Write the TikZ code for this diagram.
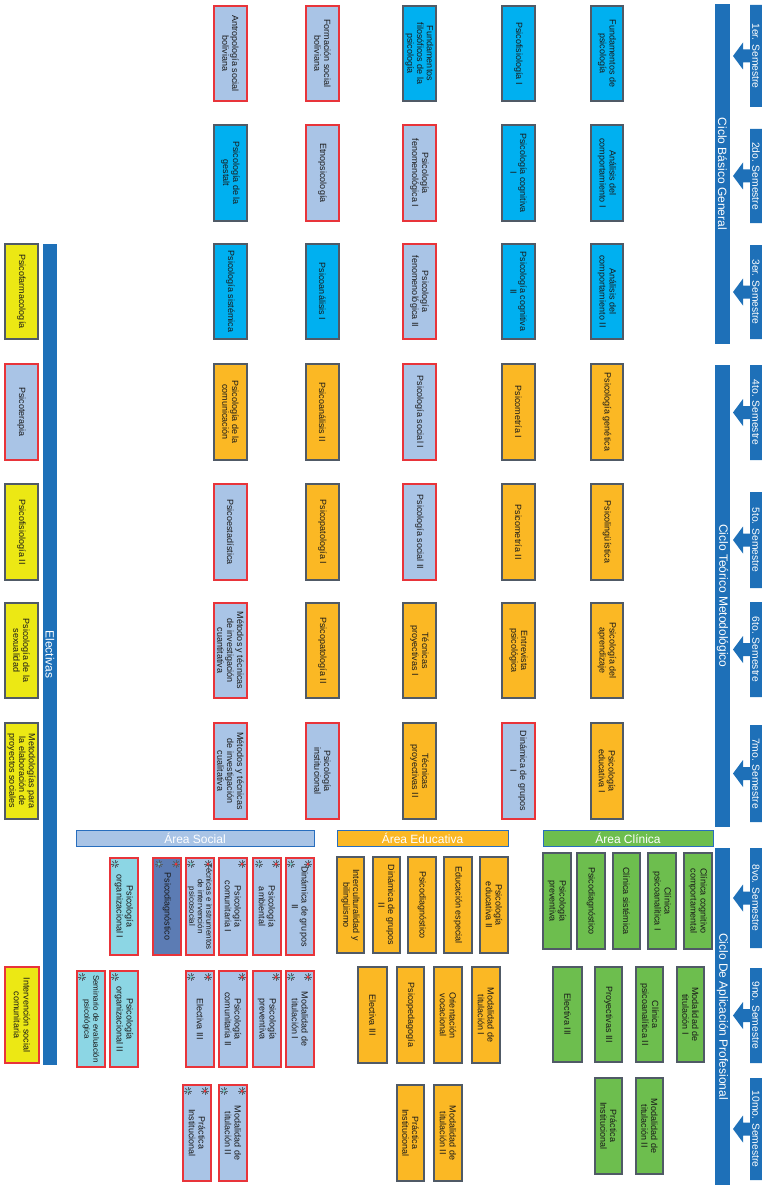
\documentclass[tikz,border=0pt]{standalone}
\usepackage{fontspec}
\setmainfont{Liberation Sans}
\definecolor{cy}{RGB}{0,176,240}
\definecolor{lb}{RGB}{169,196,230}
\definecolor{orn}{RGB}{251,184,36}
\definecolor{ye}{RGB}{236,232,20}
\definecolor{gr}{RGB}{109,190,78}
\definecolor{bgrey}{RGB}{80,90,102}
\definecolor{rd}{RGB}{232,52,58}
\definecolor{bb}{RGB}{30,112,184}
\definecolor{lc}{RGB}{140,214,228}
\definecolor{db}{RGB}{92,124,180}
\definecolor{txt}{RGB}{25,25,25}
\definecolor{hdb}{RGB}{40,110,190}
\definecolor{stg}{RGB}{85,95,105}
\definecolor{stt}{RGB}{110,205,205}
\tikzset{
 crs/.style={draw=bgrey, line width=1.2pt, rotate=-90, inner sep=1pt, align=center,
   font=\fontsize{9}{9.8}\selectfont, text=txt},
 cyb/.style={crs, fill=cy},
 lbr/.style={crs, fill=lb, draw=rd, line width=2pt},
 orb/.style={crs, fill=orn},
 yel/.style={crs, fill=ye},
 yelr/.style={crs, fill=ye, draw=rd, line width=2pt},
 grn/.style={crs, fill=gr},
 soc/.style={crs, fill=lb, draw=rd, line width=2pt},
 socc/.style={soc, fill=lc},
 socd/.style={soc, fill=db},
 cyclebar/.style={fill=bb, rotate=-90, text=white, font=\fontsize{12}{14}\selectfont,
   inner sep=0pt, minimum height=15pt},
 semlab/.style={rotate=-90, text=white, font=\fontsize{10.3}{12}\selectfont, inner sep=0pt},
 areahd/.style={draw=hdb, line width=1pt, text=white, font=\fontsize{12}{14}\selectfont,
   inner sep=0pt, minimum height=16pt},
 lstar/.pic={\foreach \a in {0,45,...,315}{\draw[stg, line width=0.8pt] (0,0) -- (\a:3.8pt);}
   \fill[stt] (0,0) circle (1.4pt);},
 rstar/.pic={\foreach \a in {0,45,...,315}{\draw[stg, line width=0.8pt] (0,0) -- (\a:3.8pt);}
   \fill[rd] (0,0) circle (1.5pt);}
}
\newcommand{\crs}[7]{\node[#6, minimum width={(#5-#3)*1pt}, minimum height={(#4-#2)*1pt}] (#1) at ({(#2+#4)/2},{(#3+#5)/2}) {#7};}
\newcommand{\semlabel}[4]{%
 \fill[bb] (764,#2) -- (750,#2) -- (750,{(#2+#3)/2-6.5}) -- (743,{(#2+#3)/2-6.5}) -- (743,{(#2+#3)/2-13.5}) -- (733,{(#2+#3)/2}) -- (743,{(#2+#3)/2+13.5}) -- (743,{(#2+#3)/2+6.5}) -- (750,{(#2+#3)/2+6.5}) -- (750,#3) -- (764,#3) -- cycle;
 \node[semlab] (#1) at (756,{(#2+#3)/2}) {#4};}
\begin{document}
\begin{tikzpicture}[x=1pt, y=-1pt]
\useasboundingbox[fill=white] (0,0) rectangle (762,1185);
% cycle bars
\node[cyclebar, minimum width=340pt] (cbg) at (722.5,174) {Ciclo Básico General};
\node[cyclebar, minimum width=462pt] (ctm) at (722.5,596) {Ciclo Teórico Metodológico};
\node[cyclebar, minimum width=337pt] (cap) at (722.5,1016.5) {Ciclo De Aplicación Profesional};
\node[cyclebar, minimum width=821pt, minimum height=14pt] (elec) at (50,654.5) {Electivas};
% semesters
\semlabel{sem1}{5}{107}{1er. Semestre}
\semlabel{sem2}{129}{223}{2do. Semestre}
\semlabel{sem3}{245}{339}{3er. Semestre}
\semlabel{sem4}{365}{460}{4to. Semestre}
\semlabel{sem5}{492}{588}{5to. Semestre}
\semlabel{sem6}{602}{697}{6to. Semestre}
\semlabel{sem7}{725}{822}{7mo. Semestre}
\semlabel{sem8}{848}{948}{8vo. Semestre}
\semlabel{sem9}{968}{1063}{9no. Semestre}
\semlabel{sem10}{1078}{1180}{10mo. Semestre}
% Column A
\crs{a1}{591}{6}{623}{101}{cyb}{Fundamentos de\\psicología}
\crs{a2}{591}{125}{623}{221}{cyb}{Análisis del\\comportamiento I}
\crs{a3}{591}{244}{623}{339}{cyb}{Análisis del\\comportamiento II}
\crs{a4}{591}{364}{623}{460}{orb}{Psicología genética}
\crs{a5}{591}{484}{623}{580}{orb}{Psicolingüística}
\crs{a6}{591}{603}{623}{698}{orb}{Psicología del\\aprendizaje}
\crs{a7}{591}{723}{623}{819}{orb}{Psicología\\educativa I}
% Column B
\crs{b1}{502}{6}{535}{101}{cyb}{Psicofisiología I}
\crs{b2}{502}{125}{535}{221}{cyb}{Psicología cognitiva\\I}
\crs{b3}{502}{244}{535}{339}{cyb}{Psicología cognitiva\\II}
\crs{b4}{502}{364}{535}{460}{orb}{Psicometría I}
\crs{b5}{502}{484}{535}{580}{orb}{Psicometría II}
\crs{b6}{502}{603}{535}{698}{orb}{Entrevista\\psicológica}
\crs{b7}{502}{723}{535}{819}{lbr}{Dinámica de grupos\\I}
% Column C
\crs{c1}{403}{6}{436}{101}{cyb}{Fundamentos\\filosóficos de la\\psicología}
\crs{c2}{403}{125}{436}{221}{lbr}{Psicología\\fenomenológica I}
\crs{c3}{403}{244}{436}{339}{lbr}{Psicología\\fenomenológica II}
\crs{c4}{403}{364}{436}{460}{lbr}{Psicología social I}
\crs{c5}{403}{484}{436}{580}{lbr}{Psicología social II}
\crs{c6}{403}{603}{436}{698}{orb}{Técnicas\\proyectivas I}
\crs{c7}{403}{723}{436}{819}{orb}{Técnicas\\proyectivas II}
% Column D
\crs{d1}{306}{6}{339}{101}{lbr}{Formación social\\boliviana}
\crs{d2}{306}{125}{339}{221}{lbr}{Etnopsicología}
\crs{d3}{306}{244}{339}{339}{cyb}{Psicoanálisis I}
\crs{d4}{306}{364}{339}{460}{orb}{Psicoanálisis II}
\crs{d5}{306}{484}{339}{580}{orb}{Psicopatología I}
\crs{d6}{306}{603}{339}{698}{orb}{Psicopatología II}
\crs{d7}{306}{723}{339}{819}{lbr}{Psicología\\institucional}
% Column E
\crs{e1}{214}{6}{247}{101}{lbr}{Antropología social\\boliviana}
\crs{e2}{214}{125}{247}{221}{cyb}{Psicología de la\\gestalt}
\crs{e3}{214}{244}{247}{339}{cyb}{Psicología sistémica}
\crs{e4}{214}{364}{247}{460}{orb}{Psicología de la\\comunicación}
\crs{e5}{214}{484}{247}{580}{lbr}{Psicoestadística}
\crs{e6}{214}{603}{247}{698}{lbr}{Métodos y técnicas\\de investigación\\cuantitativa}
\crs{e7}{214}{723}{247}{819}{lbr}{Métodos y técnicas\\de investigación\\cualitativa}
% Electivas
\crs{f3}{5}{244}{38}{339}{yel}{Psicofarmacología}
\crs{f4}{5}{364}{38}{460}{lbr}{Psicoterapia}
\crs{f5}{5}{484}{38}{580}{yel}{Psicofisiología II}
\crs{f6}{5}{603}{38}{698}{yel}{Psicología de la\\sexualidad}
\crs{f7}{5}{723}{38}{819}{yel}{Metodologías para\\la elaboración de\\proyectos sociales}
\crs{f9}{5}{967}{39}{1063}{yelr}{Intervención social\\comunitaria}
% Area headers
\node[areahd, fill=lb, minimum width=238pt] (asoc) at (195,838) {Área Social};
\node[areahd, fill=orn, minimum width=171pt] (aedu) at (422.5,838) {Área Educativa};
\node[areahd, fill=gr, minimum width=170pt] (acli) at (628,838) {Área Clínica};
% Clinica
\crs{k1}{684}{853}{712}{949}{grn}{Clínica cognitivo\\comportamental}
\crs{k2}{648}{853}{676}{949}{grn}{Clínica\\psicoanalítica I}
\crs{k3}{613}{853}{640}{949}{grn}{Clínica sistémica}
\crs{k4}{577}{853}{605}{949}{grn}{Psicodiagnóstico}
\crs{k5}{543}{853}{571}{949}{grn}{Psicología\\preventiva}
\crs{k6}{677}{967}{704}{1062}{grn}{Modalidad de\\titulación I}
\crs{k7}{636}{967}{663}{1062}{grn}{Clínica\\psicoanalítica II}
\crs{k8}{595}{967}{622}{1062}{grn}{Proyectivas III}
\crs{k9}{553}{967}{582}{1062}{grn}{Electiva III}
\crs{k10}{636}{1078}{663}{1174}{grn}{Modalidad de\\titulación II}
\crs{k11}{595}{1078}{622}{1174}{grn}{Práctica\\Institucional}
% Educativa
\crs{u1}{480}{857}{508}{953}{orb}{Psicología\\educativa II}
\crs{u2}{444}{857}{472}{953}{orb}{Educación especial}
\crs{u3}{408}{857}{436}{953}{orb}{Psicodiagnóstico}
\crs{u4}{373}{857}{400}{953}{orb}{Dinámica de grupos\\II}
\crs{u5}{337}{857}{364}{953}{orb}{Interculturalidad y\\bilingüismo}
\crs{u6}{472}{967}{500}{1063}{orb}{Modalidad de\\titulación I}
\crs{u7}{434}{967}{462}{1063}{orb}{Orientación\\vocacional}
\crs{u8}{397}{967}{424}{1063}{orb}{Psicopedagogía}
\crs{u9}{358}{967}{387}{1063}{orb}{Electiva III}
\crs{u10}{434}{1085}{462}{1181}{orb}{Modalidad de\\titulación II}
\crs{u11}{397}{1085}{424}{1181}{orb}{Práctica\\Institucional}
% Social
\crs{s1}{286}{858}{314}{955}{soc}{Dinámica de grupos\\II}
\crs{s2}{253}{858}{281}{955}{soc}{Psicología\\ambiental}
\crs{s3}{219}{858}{247}{955}{soc}{Psicología\\comunitaria I}
\crs{s4}{186}{858}{214}{955}{soc, font=\fontsize{8}{8.4}\selectfont}{Técnicas e instrumentos\\de intervención\\psicosocial}
\crs{s5}{153}{858}{181}{955}{socd}{Psicodiagnóstico}
\crs{s6}{110}{858}{138}{955}{socc}{Psicología\\organizacional I}
\crs{s7}{286}{971}{314}{1067}{soc}{Modalidad de\\titulación I}
\crs{s8}{253}{971}{281}{1067}{soc}{Psicología\\preventiva}
\crs{s9}{219}{971}{247}{1067}{soc}{Psicología\\comunitaria II}
\crs{s10}{186}{971}{214}{1067}{soc}{Electiva III}
\crs{s11}{110}{971}{138}{1067}{socc}{Psicología\\organizacional II}
\crs{s12}{77}{971}{105}{1067}{socc, font=\fontsize{8}{9}\selectfont}{Seminario de evaluación\\psicológica}
\crs{s13}{219}{1085}{247}{1181}{soc}{Modalidad de\\titulación II}
\crs{s14}{183}{1085}{211}{1181}{soc}{Práctica\\Institucional}
% stars
\pic at (115,864) {lstar};
\pic at (159,864) {lstar}; \pic at (176,864) {rstar};
\pic at (191,864) {lstar}; \pic at (208,864) {rstar};
\pic at (242,864) {rstar};
\pic at (259,864) {lstar}; \pic at (276,864) {rstar};
\pic at (291,864) {lstar}; \pic at (308,864) {rstar};
\pic at (82,977) {lstar};
\pic at (115,977) {lstar};
\pic at (191,977) {lstar}; \pic at (208,977) {rstar};
\pic at (242,977) {rstar};
\pic at (276,977) {rstar};
\pic at (291,977) {lstar}; \pic at (308,977) {rstar};
\pic at (188,1091) {lstar}; \pic at (205,1091) {rstar};
\pic at (224,1091) {lstar}; \pic at (242,1091) {rstar};
\end{tikzpicture}
\end{document}
